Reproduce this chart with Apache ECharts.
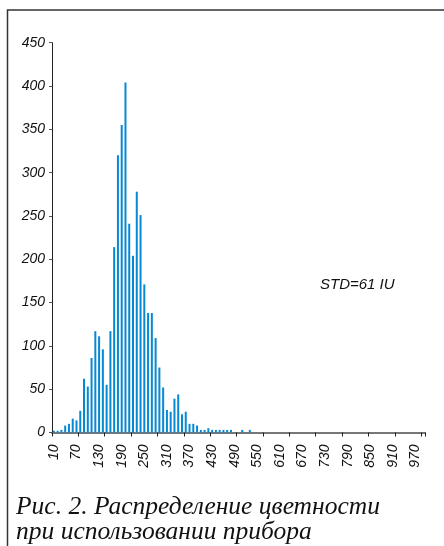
<!DOCTYPE html>
<html>
<head>
<meta charset="utf-8">
<script src="https://cdn.jsdelivr.net/npm/echarts@6/dist/echarts.min.js"></script>
<style>
html,body{margin:0;padding:0;background:#fff;}
#c{width:444px;height:546px;}
</style>
</head>
<body>
<div id="c"></div>
<script>
// Categories: colour bins 10..990 (step 10)
const categories = [];
for (let v = 10; v <= 990; v += 10) categories.push(String(v));

// Counts per bin (bins 10..530; remaining bins are empty)
const countsRead = [2,2,3,8,10,16,14,25,62,53,86,117,111,96,55,117,214,320,355,404,
  241,204,278,251,171,138,138,109,75,52,26,24,39,44,21,24,10,10,8,3,
  3,5,3,3,3,3,3,3,0,0,3,0,3];
const counts = categories.map((c, i) => (i < countsRead.length ? countsRead[i] : 0));

const yTicks = [0,50,100,150,200,250,300,350,400,450];
const annotation = 'STD=61 IU';
const captionLines = ['Рис. 2. Распределение цветности', 'при использовании прибора'];

const chart = echarts.init(document.getElementById('c'), null, {renderer: 'canvas'});
const axisFont = {fontFamily: 'Liberation Sans, Arial, sans-serif', fontStyle: 'italic', fontSize: 14, color: '#111'};

chart.setOption({
  animation: false,
  backgroundColor: '#fff',
  grid: {left: 52, right: 19, top: 42.7, bottom: 113.5, containLabel: false},
  xAxis: {
    type: 'category',
    data: categories,
    boundaryGap: true,
    axisLine: {show: true, lineStyle: {color: '#777', width: 2}},
    axisTick: {show: true, interval: 6, length: 4, lineStyle: {color: '#222', width: 1}},
    axisLabel: Object.assign({interval: 5, rotate: 90, margin: 12}, axisFont),
    splitLine: {show: false}
  },
  yAxis: {
    type: 'value',
    min: yTicks[0],
    max: yTicks[yTicks.length - 1],
    interval: 50,
    axisLine: {show: true, lineStyle: {color: '#222', width: 1}},
    axisTick: {show: true, length: 3, lineStyle: {color: '#555'}},
    axisLabel: Object.assign({margin: 7}, axisFont),
    splitLine: {show: false}
  },
  series: [{
    type: 'bar',
    data: counts,
    barWidth: 2,
    itemStyle: {color: '#0589d2'}
  }],
  graphic: [
    {type: 'polyline', silent: true, shape: {points: [[7.5, 546], [7.5, 10], [444, 10]]},
     style: {stroke: '#333', lineWidth: 1.5, fill: null}},
    {type: 'text', left: 320, top: 277, silent: true,
     style: {text: annotation, font: 'italic 15px "Liberation Sans", Arial, sans-serif', fill: '#111'}},
    {type: 'text', x: 16, y: 507.5, silent: true,
     style: {text: captionLines[0], font: 'italic 25.5px "Liberation Serif", "Times New Roman", serif', fill: '#111', verticalAlign: 'middle'}},
    {type: 'text', x: 16, y: 532.5, silent: true,
     style: {text: captionLines[1], font: 'italic 25.5px "Liberation Serif", "Times New Roman", serif', fill: '#111', verticalAlign: 'middle'}}
  ]
});
</script>
</body>
</html>
